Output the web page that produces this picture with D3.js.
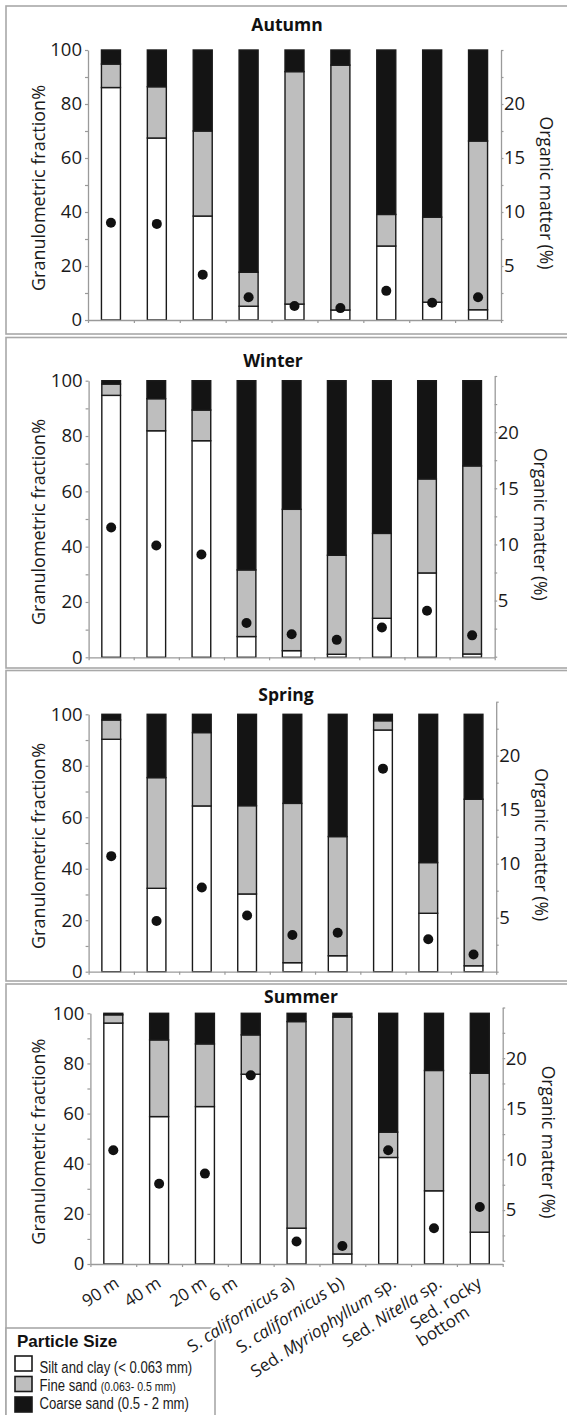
<!DOCTYPE html>
<html>
<head>
<meta charset="utf-8">
<script src="https://cdn.jsdelivr.net/npm/d3@7"></script>
<style>
  body { margin: 0; background: #fff; }
  svg { display: block; font-family: "Open Sans", sans-serif; }
</style>
</head>
<body>
<script>
var svgWidth = 567;
var svgHeight = 1415;

// categories
var sites = ["90 m", "40 m", "20 m", "6 m", "S. californicus a)", "S. californicus b)",
  "Sed. Myriophyllum sp.", "Sed. Nitella sp.", "Sed. rocky\nbottom"];
var seasons = ["Autumn", "Winter", "Spring", "Summer"];
var italicWords = ["californicus", "Myriophyllum", "Nitella"];

// granulometric fractions (%) per season
var siltAutumn   = [86.1, 67.4, 38.5, 5.1, 5.9, 3.7, 27.4, 6.6, 3.8];
var fineAutumn   = [8.7, 19.0, 31.5, 12.6, 86.1, 90.7, 11.7, 31.5, 62.5];
var coarseAutumn = [5.2, 13.6, 30.0, 82.3, 8.0, 5.6, 60.9, 61.9, 33.7];

var siltWinter   = [94.7, 81.9, 78.3, 7.5, 2.4, 1.1, 14.1, 30.5, 1.2];
var fineWinter   = [4.1, 11.6, 11.1, 24.1, 51.1, 35.8, 30.7, 34.0, 68.0];
var coarseWinter = [1.2, 6.5, 10.6, 68.4, 46.5, 63.1, 55.2, 35.5, 30.8];

var siltSpring   = [90.3, 32.4, 64.4, 30.2, 3.5, 6.2, 93.9, 22.7, 2.3];
var fineSpring   = [7.5, 43.0, 28.5, 34.3, 61.9, 46.3, 3.6, 19.7, 64.7];
var coarseSpring = [2.2, 24.6, 7.1, 35.5, 34.6, 47.5, 2.5, 57.6, 33.0];

var siltSummer   = [96.1, 58.8, 62.8, 75.7, 14.3, 4.0, 42.5, 29.2, 12.7];
var fineSummer   = [3.3, 30.6, 25.0, 15.7, 82.4, 94.5, 10.1, 48.0, 63.4];
var coarseSummer = [0.6, 10.6, 12.2, 8.6, 3.3, 1.5, 47.4, 22.8, 23.9];

// organic matter (%)
var organicAutumn = [9.0, 8.9, 4.2, 2.1, 1.3, 1.1, 2.7, 1.6, 2.1];
var organicWinter = [11.5, 9.9, 9.1, 3.0, 2.0, 1.5, 2.6, 4.1, 1.9];
var organicSpring = [10.7, 4.7, 7.8, 5.2, 3.4, 3.6, 18.8, 3.0, 1.6];
var organicSummer = [10.9, 7.6, 8.6, 18.3, 1.9, 1.45, 10.9, 3.2, 5.3];

// ticks
var leftTicks = d3.range(0, 101, 10);
var leftLabels = [0, 20, 40, 60, 80, 100];
var rightTicks = d3.range(0, 25.01, 2.5);
var rightLabels = [5, 10, 15, 20];

// legend
var legendKeys = ["silt", "fine", "coarse"];
var legendMain = ["Silt and clay (< 0.063 mm)", "Fine sand ", "Coarse sand (0.5 - 2 mm)"];
var legendSmall = ["", "(0.063- 0.5 mm)", ""];

var siltBySeason = [siltAutumn, siltWinter, siltSpring, siltSummer];
var fineBySeason = [fineAutumn, fineWinter, fineSpring, fineSummer];
var coarseBySeason = [coarseAutumn, coarseWinter, coarseSpring, coarseSummer];
var organicBySeason = [organicAutumn, organicWinter, organicSpring, organicSummer];

var fillColor = { silt: "#ffffff", fine: "#bebebe", coarse: "#141414" };

// panel layout (pixels)
var layout = [
  { top: 6,     bottom: 334,  x0: 88,   x1: 501,   y0: 320,    y100: 50,     r0: 320,    r25: 50,     titleX: 287, titleY: 31 },
  { top: 337.5, bottom: 668,  x0: 88.6, x1: 494.7, y0: 657.3,  y100: 380.7,  r0: 656.7,  r25: 376,    titleX: 273, titleY: 367 },
  { top: 670.5, bottom: 981,  x0: 88.6, x1: 496.2, y0: 971.7,  y100: 714.3,  r0: 971.7,  r25: 701.7,  titleX: 286, titleY: 701 },
  { top: 984,   bottom: 1440, x0: 90.4, x1: 502.7, y0: 1264,   y100: 1013.3, r0: 1260.7, r25: 1007.5, titleX: 301, titleY: 1003 }
];
// nudges of the rotated category labels (pixels)
var labelDx = [4, 0, 0, -15, -4, 0, 6, 6, 0];

var svg = d3.select("body")
  .append("svg")
  .attr("width", svgWidth)
  .attr("height", svgHeight);

var stack = d3.stack().keys(legendKeys);
var labelGroup;

seasons.forEach(function(season, i) {
  var L = layout[i];
  var g = svg.append("g");

  // panel frame
  g.append("rect")
    .attr("x", 6).attr("y", L.top)
    .attr("width", 600).attr("height", L.bottom - L.top)
    .attr("fill", "none")
    .attr("stroke", "#a8a8a8")
    .attr("stroke-width", 1.6);

  var rows = sites.map(function(s, j) {
    return { site: s, silt: siltBySeason[i][j], fine: fineBySeason[i][j], coarse: coarseBySeason[i][j], om: organicBySeason[i][j] };
  });

  var x = d3.scaleBand().domain(sites).range([L.x0, L.x1]).paddingInner(0.586).paddingOuter(0.293);
  var y = d3.scaleLinear().domain([0, 100]).range([L.y0, L.y100]);
  var yr = d3.scaleLinear().domain([0, 25]).range([L.r0, L.r25]);
  var slot = d3.scaleLinear().domain([0, sites.length]).range([L.x0, L.x1]);

  // title
  g.append("text")
    .attr("x", L.titleX).attr("y", L.titleY)
    .attr("text-anchor", "middle")
    .style("font-weight", "bold")
    .style("font-size", "17.5px")
    .attr("fill", "#111")
    .text(season);

  // stacked bars
  var series = stack(rows);
  g.selectAll(".layer")
    .data(series)
    .enter().append("g")
    .attr("fill", function(d) { return fillColor[d.key]; })
    .selectAll("rect")
    .data(function(d) { return d; })
    .enter().append("rect")
    .attr("x", function(d) { return x(d.data.site); })
    .attr("width", x.bandwidth())
    .attr("y", function(d) { return y(d[1]); })
    .attr("height", function(d) { return y(d[0]) - y(d[1]); })
    .attr("stroke", "#1a1a1a")
    .attr("stroke-width", 1.4);

  // axes
  var leftAxis = d3.axisLeft(y).tickValues(leftTicks)
    .tickFormat(function(d) { return leftLabels.indexOf(d) >= 0 ? d : ""; })
    .tickSize(3).tickSizeOuter(0).tickPadding(3);
  var rightAxis = d3.axisRight(yr).tickValues(rightTicks)
    .tickFormat(function(d) { return rightLabels.indexOf(d) >= 0 ? d : ""; })
    .tickSize(2.5).tickSizeOuter(0).tickPadding(0.5);
  var bottomAxis = d3.axisBottom(slot).tickValues(d3.range(0, sites.length + 1))
    .tickFormat("").tickSize(3).tickSizeOuter(0);

  var ga = g.append("g").attr("transform", "translate(" + L.x0 + ",0)").call(leftAxis);
  var gr = g.append("g").attr("transform", "translate(" + L.x1 + ",0)").call(rightAxis);
  var gb = g.append("g").attr("transform", "translate(0," + L.y0 + ")").call(bottomAxis);
  [ga, gr, gb].forEach(function(a) {
    a.select(".domain").attr("stroke", "#9a9a9a").attr("stroke-width", 1.3);
    a.selectAll(".tick line").attr("stroke", "#9a9a9a").attr("stroke-width", 1.2);
    a.selectAll(".tick text").attr("fill", "#1a1a1a").style("font-size", "18.5px").style("font-family", "Open Sans");
  });

  // organic matter dots
  g.selectAll("circle")
    .data(rows)
    .enter().append("circle")
    .attr("cx", function(d) { return x(d.site) + x.bandwidth() / 2; })
    .attr("cy", function(d) { return yr(d.om); })
    .attr("r", 5)
    .attr("fill", "#111");

  // axis titles
  g.append("text")
    .attr("transform", "translate(44.5," + ((L.y0 + L.y100) / 2 + 3) + ") rotate(-90)")
    .attr("text-anchor", "middle")
    .style("font-size", "18px")
    .attr("fill", "#1a1a1a")
    .text("Granulometric fraction%");

  g.append("text")
    .attr("transform", "translate(" + (L.x1 + 39) + "," + ((L.r0 + L.r25) / 2 + 8) + ") rotate(90)")
    .attr("text-anchor", "middle")
    .style("font-size", "17.5px")
    .attr("fill", "#1a1a1a")
    .text("Organic matter (%)");

  // category labels on the last panel
  if (i === seasons.length - 1) {
    labelGroup = svg.append("g");
    sites.forEach(function(s, j) {
      var cx = x(s) + x.bandwidth() / 2;
      var t = labelGroup.append("text")
        .attr("transform", "translate(" + (cx + 3 + labelDx[j]) + "," + (L.y0 + 22) + ") rotate(-33)")
        .attr("text-anchor", "end")
        .style("font-size", "17px")
        .attr("fill", "#1a1a1a")
        .attr("stroke", "#fff").attr("stroke-width", 4)
        .attr("paint-order", "stroke");
      s.split("\n").forEach(function(line, k) {
        var tl = t.append("tspan").attr("x", k === 0 ? 0 : -26).attr("dy", k === 0 ? 0 : 18);
        line.split(" ").forEach(function(w, m) {
          tl.append("tspan")
            .style("font-style", italicWords.indexOf(w) >= 0 ? "italic" : "normal")
            .text((m > 0 ? " " : "") + w);
        });
      });
    });
  }
});

// legend (drawn under the category labels)
var legend = svg.insert("g", function() { return labelGroup.node(); });
legend.append("rect")
  .attr("x", 6).attr("y", 1328)
  .attr("width", 209).attr("height", 120)
  .attr("fill", "#fff")
  .attr("stroke", "#a8a8a8")
  .attr("stroke-width", 1.6);
legend.append("text")
  .attr("x", 17).attr("y", 1347)
  .style("font-family", "Liberation Sans, Arial, sans-serif")
  .style("font-weight", "bold")
  .style("font-size", "17px")
  .attr("fill", "#111")
  .text("Particle Size");

var item = legend.selectAll(".item")
  .data(legendKeys)
  .enter().append("g")
  .attr("transform", function(d, i) { return "translate(15," + (1356 + i * 20.5) + ")"; });
item.append("rect")
  .attr("width", 17).attr("height", 15)
  .attr("fill", function(d) { return fillColor[d]; })
  .attr("stroke", "#1a1a1a")
  .attr("stroke-width", 1.6);
// condensed look: horizontally squeezed sans
var itemText = item.append("text")
  .attr("transform", function(d, i) { return "translate(24.5," + [16.7, 14, 11.7][i] + ") scale(0.82,1)"; })
  .style("font-family", "Liberation Sans, Arial, sans-serif")
  .style("font-size", "16px")
  .attr("fill", "#1a1a1a");
itemText.append("tspan").text(function(d, i) { return legendMain[i]; });
itemText.append("tspan").style("font-size", "12.9px").text(function(d, i) { return legendSmall[i]; });
</script>
</body>
</html>
